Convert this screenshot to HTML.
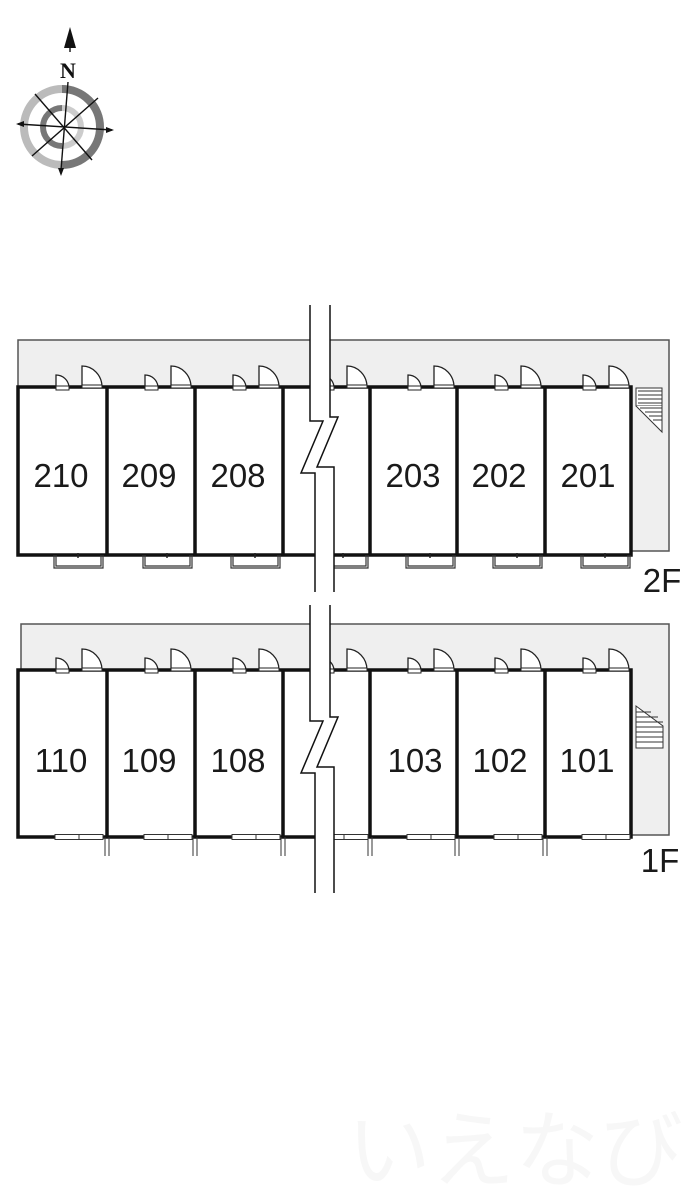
<!DOCTYPE html>
<html><head><meta charset="utf-8"><style>
html,body{margin:0;padding:0;background:#fff;width:700px;height:1201px;overflow:hidden}
svg{display:block}
.lbl{font-family:"Liberation Sans",sans-serif;font-size:33px;fill:#1a1a1a;text-anchor:middle}
</style></head><body>
<svg width="700" height="1201" viewBox="0 0 700 1201" xmlns="http://www.w3.org/2000/svg">
<defs>
<g id="dr"><path d="M38,0 v-12 a13,13 0 0 1 13,12 z" fill="#fff" stroke="#222" stroke-width="1.3"/><rect x="38" y="-1" width="13" height="4" fill="#fff" stroke="#222" stroke-width="1"/>
<path d="M64,0 v-21 a20,21 0 0 1 20,21 z" fill="#fff" stroke="#222" stroke-width="1.3"/><rect x="64" y="-2" width="20" height="3" fill="#fff" stroke="#222" stroke-width="1"/></g>
<g id="w2"><path d="M36,0 v13 h49 v-13 M38,0 v11 h45 v-11" fill="none" stroke="#333" stroke-width="1.2"/><line x1="60" y1="-2" x2="60" y2="3" stroke="#222" stroke-width="1.5"/></g>
<g id="w1"><rect x="37" y="-2.5" width="24" height="5" fill="#fff" stroke="#333" stroke-width="1"/><rect x="61" y="-2.5" width="24" height="5" fill="#fff" stroke="#333" stroke-width="1"/></g>
</defs>

<!-- compass -->
<g>
<path d="M62,89 A38,38 0 0 0 62,165" fill="none" stroke="#bbb" stroke-width="8"/>
<path d="M62,89 A38,38 0 0 1 62,165" fill="none" stroke="#777" stroke-width="8"/>
<path d="M62,108 A19,19 0 0 0 62,146" fill="none" stroke="#777" stroke-width="6"/>
<path d="M62,108 A19,19 0 0 1 62,146" fill="none" stroke="#ccc" stroke-width="6"/>
<g stroke="#111" stroke-width="1.4">
<line x1="68" y1="82" x2="61" y2="170"/><line x1="18" y1="124" x2="112" y2="130"/>
<line x1="35" y1="94" x2="92" y2="160"/><line x1="98" y1="98" x2="32" y2="156"/>
<line x1="70" y1="36" x2="70" y2="52"/></g>
<path d="M70,27 L64,48 L76,48 Z" fill="#111"/>
<path d="M16,124 L24,121 L24,127Z M114,130 L106,127 L106,133Z M61,176 L58,168 L64,168Z" fill="#111"/>
<text x="68" y="78" font-family="Liberation Serif,serif" font-weight="bold" font-size="22" text-anchor="middle" fill="#111">N</text>
</g>

<!-- 2F -->
<rect x="18" y="340" width="651" height="211" fill="#efefef" stroke="#555" stroke-width="1.5"/>
<rect x="18" y="387" width="613" height="168" fill="#fff" stroke="#111" stroke-width="3.5"/>
<g stroke="#111" stroke-width="3.5"><line x1="107" y1="387" x2="107" y2="555"/><line x1="195" y1="387" x2="195" y2="555"/><line x1="283" y1="387" x2="283" y2="555"/><line x1="370" y1="387" x2="370" y2="555"/><line x1="457" y1="387" x2="457" y2="555"/><line x1="545" y1="387" x2="545" y2="555"/></g>
<g transform="translate(18,387)"><use href="#dr"/><use href="#w2" y="168"/></g>
<g transform="translate(107,387)"><use href="#dr"/><use href="#w2" y="168"/></g>
<g transform="translate(195,387)"><use href="#dr"/><use href="#w2" y="168"/></g>
<g transform="translate(283,387)"><use href="#dr"/><use href="#w2" y="168"/></g>
<g transform="translate(370,387)"><use href="#dr"/><use href="#w2" y="168"/></g>
<g transform="translate(457,387)"><use href="#dr"/><use href="#w2" y="168"/></g>
<g transform="translate(545,387)"><use href="#dr"/><use href="#w2" y="168"/></g>
<g stroke="#333" stroke-width="1"><rect x="636" y="388" width="26" height="18" fill="#fff"/><path d="M636,406 L662,432 L662,406" fill="#fff"/>
<path d="M638,391h24M638,395h24M638,399h24M638,403h24M640,408h22M645,412h17M649,416h13M653,420h9" /></g>
<path d="M310,305 V421 H323 L301,473 H315 V592 H334 V467 H317 L338,417 H330 V305 Z" fill="#fff" stroke="none"/>
<path d="M310,305 V421 H323 L301,473 H315 V592 M330,305 V417 H338 L317,467 H334 V592" fill="none" stroke="#111" stroke-width="1.5"/>
<text class="lbl" x="61" y="487">210</text><text class="lbl" x="149" y="487">209</text><text class="lbl" x="238" y="487">208</text>
<text class="lbl" x="413" y="487">203</text><text class="lbl" x="499" y="487">202</text><text class="lbl" x="588" y="487">201</text>
<text class="lbl" x="662" y="592" font-size="30">2F</text>

<!-- 1F -->
<rect x="21" y="624" width="648" height="211" fill="#efefef" stroke="#555" stroke-width="1.5"/>
<rect x="18" y="670" width="613" height="167" fill="#fff" stroke="#111" stroke-width="3.5"/>
<g stroke="#111" stroke-width="3.5"><line x1="107" y1="670" x2="107" y2="837"/><line x1="195" y1="670" x2="195" y2="837"/><line x1="283" y1="670" x2="283" y2="837"/><line x1="370" y1="670" x2="370" y2="837"/><line x1="457" y1="670" x2="457" y2="837"/><line x1="545" y1="670" x2="545" y2="837"/></g>
<g fill="none" stroke="#333" stroke-width="1"><path d="M105,837v19M109,837v19M193,837v19M197,837v19M281,837v19M285,837v19M368,837v19M372,837v19M455,837v19M459,837v19M543,837v19M547,837v19"/></g>
<g transform="translate(18,670)"><use href="#dr"/><use href="#w1" y="167"/></g>
<g transform="translate(107,670)"><use href="#dr"/><use href="#w1" y="167"/></g>
<g transform="translate(195,670)"><use href="#dr"/><use href="#w1" y="167"/></g>
<g transform="translate(283,670)"><use href="#dr"/><use href="#w1" y="167"/></g>
<g transform="translate(370,670)"><use href="#dr"/><use href="#w1" y="167"/></g>
<g transform="translate(457,670)"><use href="#dr"/><use href="#w1" y="167"/></g>
<g transform="translate(545,670)"><use href="#dr"/><use href="#w1" y="167"/></g>
<g stroke="#333" stroke-width="1"><path d="M636,706 L663,726 V748 H636 Z" fill="#fff"/>
<path d="M636,712h15M636,717h22M636,722h27M636,727h27M636,732h27M636,737h27M636,742h27" /></g>
<path d="M310,605 V721 H323 L301,773 H315 V893 H334 V767 H317 L338,717 H330 V605 Z" fill="#fff" stroke="none"/>
<path d="M310,605 V721 H323 L301,773 H315 V893 M330,605 V717 H338 L317,767 H334 V893" fill="none" stroke="#111" stroke-width="1.5"/>
<text class="lbl" x="61" y="772">110</text><text class="lbl" x="149" y="772">109</text><text class="lbl" x="238" y="772">108</text>
<text class="lbl" x="415" y="772">103</text><text class="lbl" x="500" y="772">102</text><text class="lbl" x="587" y="772">101</text>
<text class="lbl" x="660" y="872" font-size="30">1F</text>

<text x="515" y="1180" font-family="'Liberation Sans','Noto Sans CJK JP',sans-serif" font-size="84" fill="#f7f7f7" text-anchor="middle">いえなび</text>
</svg>
</body></html>
